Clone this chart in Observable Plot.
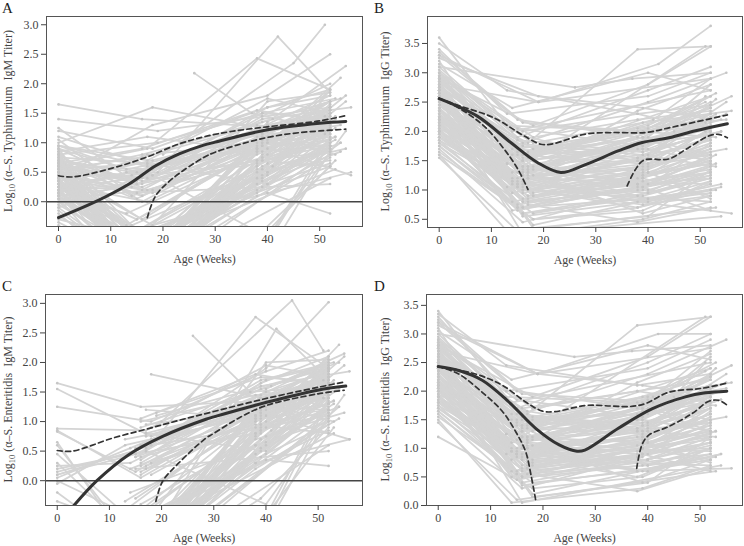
<!DOCTYPE html>
<html><head><meta charset="utf-8">
<script src="https://cdn.jsdelivr.net/npm/d3@7"></script>
<script src="https://cdn.jsdelivr.net/npm/@observablehq/plot@0.6"></script>
<style>
body{margin:0;background:#fff;}
#wrap{position:relative;width:744px;height:546px;font-family:"Liberation Serif",serif;}
.panel{position:absolute;}
.panel svg, .panel svg text{font-family:"Liberation Serif",serif !important;}
.tag{position:absolute;font:15px/15px "Liberation Serif",serif;color:#222;}
</style></head><body><div id="wrap"></div>
<script>
// ---------- shared visit ages per child: [visit2, visit3, visit4] (visit1 = age 0) ----------
const visitAges = [
[16,39,52],[15,38,52],[17,40,53],[14,null,52],[18,39,52],[16,38,54],[13,40,52],[17,null,52],[15,39,51],[16,41,52],
[18,38,52],[14,39,53],[17,null,52],[16,40,52],[15,38,55],[19,39,52],[16,null,52],[14,40,52],[17,39,52],[15,null,53],
[16,38,52],[18,40,52],[13,39,52],[17,38,56],[16,null,52],[15,40,52],[14,39,52],[18,null,54],[16,39,52],[17,40,52],
[15,38,52],[16,null,51],[14,39,52],[18,40,53],[16,38,52],[17,39,52],[15,null,52],[16,40,55],[13,38,52],[18,39,52],
[17,41,52],[16,null,52],[15,39,53],[14,40,52],[17,38,52],[16,39,52],[19,null,52],[15,40,54],[16,39,52],[18,38,52],
[14,null,52],[17,40,52],[16,39,56],[15,38,52],[18,40,52],[16,null,53],[17,39,52],[14,38,52],[16,40,52],[15,39,55],
[18,null,52],[16,39,52],[17,40,51],[13,38,52],[16,39,52],[15,null,52],[17,40,53],[16,38,52],[18,39,52],[14,40,52],
[16,null,54],[17,39,52],[26,37,52],[17,38,52],[19,42,52],[20,45,51],[18,40,52],
[15,39,52],[16,40,52],[17,38,52],[14,39,53],[16,null,52],[18,39,52],[15,40,52],[16,38,55],[17,39,52],[13,null,52],
[16,40,52],[15,39,54],[17,38,52],[18,null,52],[14,40,52],[16,39,52],[15,38,53],[17,40,52],[16,null,52],[18,39,56],
[14,38,52],[16,40,52],[17,39,52],[15,null,51],[16,38,52],[18,40,52],[13,39,52],[17,null,53],[16,39,52],[15,40,52],
[14,38,52],[16,39,54],[17,null,52],[18,40,52],[15,39,52],[16,38,52],[17,40,55],[14,null,52],[16,39,52],[15,38,52]
];

// ---------- log10 titers per child: [age0, visit2, visit3, visit4] ----------
const typhIgM = [
[0.45,-0.9,0.7,1.2],[0.2,0.3,0.9,1.1],[0.75,-1.2,0.5,1.45],[0.1,-0.8,null,0.9],[0.6,0.55,1.1,1.3],
[-0.7,-1.0,0.3,0.85],[0.35,-0.6,0.8,1.6],[0.9,0.2,null,1.05],[0.05,-1.4,1.2,1.35],[0.5,0.8,1.4,1.7],
[1.1,0.6,0.95,1.25],[-0.25,-0.9,-0.6,0.7],[0.4,-1.1,null,1.5],[0.65,0.1,1.0,0.95],[0.15,-0.5,0.6,1.8],
[0.8,1.0,1.5,1.4],[-0.9,-1.3,null,0.4],[0.3,0.45,1.3,1.55],[0.55,-0.7,0.25,1.0],[0.0,-1.0,null,1.25],
[0.7,0.35,0.7,0.6],[1.2,0.9,1.6,1.9],[0.25,-0.4,0.95,1.15],[-0.35,-1.1,0.1,0.5],[0.6,0.0,null,1.7],
[0.85,-1.5,1.05,1.3],[0.1,0.25,1.2,1.6],[0.45,-0.8,null,2.1],[-0.15,-1.2,0.45,0.9],[0.95,0.7,1.75,1.5],
[0.3,-0.3,0.85,1.35],[1.65,1.4,null,1.2],[0.5,-1.0,-0.8,1.1],[0.2,0.6,1.1,0.8],[0.7,-0.6,0.4,1.45],
[-0.5,-0.9,0.75,1.65],[0.4,0.15,null,0.3],[0.8,-1.3,1.35,2.3],[0.15,0.5,0.9,1.05],[1.0,1.6,1.25,1.5],
[0.35,-0.7,0.6,1.9],[0.55,-1.2,null,0.75],[-0.1,0.4,1.5,1.75],[0.65,-0.5,0.15,-0.2],[0.25,0.8,1.0,1.4],
[0.9,-1.0,1.15,1.2],[1.4,1.2,null,1.6],[0.05,-0.8,0.5,1.0],[0.6,0.3,1.45,2.0],[0.4,-1.4,0.7,1.3],
[-0.3,-0.6,null,0.6],[0.75,0.65,0.3,1.15],[0.2,-1.1,0.95,0.45],[1.05,0.05,1.1,1.55],[0.5,-0.4,1.7,1.85],
[0.3,-1.0,null,1.4],[0.85,1.1,0.85,0.95],[-0.6,-1.2,0.2,1.25],[0.45,0.2,1.3,1.0],[0.1,-0.9,0.55,1.7],
[0.7,0.45,null,0.85],[0.35,-1.3,-0.5,0.6],[0.95,0.6,1.2,1.45],[0.15,-0.2,0.8,1.3],[0.55,-0.8,1.0,1.55],
[1.25,0.3,null,1.8],[0.0,-1.1,0.65,1.1],[0.65,0.9,1.55,1.35],[0.25,-0.6,0.35,0.95],[0.8,0.1,0.9,1.25],
[-0.2,-1.4,null,1.0],[0.5,0.4,1.05,1.5],[null,2.18,1.5,1.2],[0.6,0.9,2.43,1.9],[0.3,0.5,2.8,1.85],
[null,0.8,2.35,3.0],[0.4,1.3,1.8,2.5],
[0.3,-1.0,0.6,1.15],[0.6,0.4,1.0,1.4],[0.15,-0.7,0.9,1.6],[0.8,-1.3,0.4,1.05],[0.45,-0.9,null,1.3],
[0.05,0.2,0.75,1.2],[0.7,-1.1,1.25,1.7],[0.35,-0.5,0.55,0.9],[0.55,0.65,1.15,1.45],[-0.4,-1.2,null,0.8],
[0.25,-0.8,-0.7,1.0],[0.9,0.5,1.35,1.75],[0.4,-1.4,0.85,1.25],[0.65,0.15,null,1.55],[0.1,-0.6,0.3,0.65],
[0.5,-1.0,1.05,1.5],[0.75,0.3,0.65,1.1],[-0.05,-0.9,1.2,1.35],[0.6,-1.2,null,1.9],[0.2,0.45,1.4,1.6],
[0.85,-0.4,0.5,0.7],[0.4,-1.3,-0.9,0.85],[0.3,0.0,0.95,1.4],[0.7,-0.8,null,1.15],[0.55,0.75,1.3,1.2],
[0.15,-1.1,0.45,1.65],[0.95,0.55,1.0,1.35],[0.45,-0.7,null,0.55],[0.25,-1.5,0.8,1.45],[0.65,0.35,1.6,1.8],
[-0.1,-1.0,0.15,1.05],[0.5,0.1,1.1,1.3],[0.8,-0.9,null,1.6],[0.35,0.7,1.2,1.5],[0.1,-1.2,0.7,0.95],
[0.6,-0.3,0.9,1.7],[0.4,0.5,-0.6,1.2],[0.75,-1.1,null,0.9],[0.2,0.25,1.05,1.4],[0.5,-0.8,0.6,1.25]
];
const typhIgG = [
[2.6,1.3,1.5,1.9],[2.9,1.7,2.0,2.4],[2.2,0.9,1.1,1.6],[3.1,2.0,null,2.7],[1.8,0.6,0.9,1.2],
[2.5,1.4,1.8,2.2],[3.4,2.3,2.6,3.0],[2.0,1.0,null,0.8],[2.7,1.1,1.3,2.0],[2.35,1.5,2.2,2.9],
[1.65,0.5,0.7,1.0],[3.0,1.8,1.6,1.4],[2.45,1.2,null,2.1],[2.8,0.8,1.0,1.3],[1.9,1.1,1.5,2.5],
[3.25,2.6,2.4,2.2],[2.15,0.7,null,1.5],[2.55,1.6,1.9,2.8],[2.9,1.3,0.6,0.9],[1.55,0.3,null,0.7],
[2.7,2.0,2.3,2.0],[2.25,0.9,1.4,1.7],[3.6,2.1,2.0,2.6],[2.0,1.2,0.8,0.6],[2.65,1.5,null,2.45],
[3.05,1.9,2.7,3.1],[1.75,0.8,1.2,1.9],[2.4,0.4,null,1.1],[2.85,1.6,1.7,1.5],[2.1,1.0,1.6,2.3],
[3.3,2.2,1.9,1.6],[2.5,1.4,null,3.45],[1.6,0.2,0.5,0.8],[2.75,1.7,2.1,2.65],[2.3,1.1,0.9,1.4],
[2.95,1.25,1.35,1.75],[2.05,0.65,null,1.3],[2.6,1.8,2.5,3.0],[3.2,1.45,1.1,1.2],[1.85,0.95,1.25,1.55],
[2.45,1.35,2.0,2.1],[2.7,0.55,null,0.95],[2.2,1.6,1.45,2.55],[3.15,2.4,3.0,2.7],[1.95,0.75,0.45,0.7],
[2.55,1.0,1.7,2.25],[2.8,2.5,null,2.9],[2.35,1.15,0.8,1.05],[1.7,0.45,1.0,1.8],[3.0,1.9,2.2,2.35],
[2.5,1.3,null,1.6],[2.15,0.85,1.3,0.85],[2.9,1.55,1.9,2.6],[1.8,1.05,0.7,1.1],[2.6,0.35,0.55,1.35],
[3.35,2.15,null,1.9],[2.25,1.4,1.6,2.0],[2.7,1.15,2.35,2.8],[2.05,0.6,0.95,1.25],[2.95,2.05,1.75,2.3],
[2.4,0.9,null,1.45],[1.9,1.25,1.05,0.65],[2.65,1.65,2.05,2.5],[3.5,2.7,2.3,2.45],[2.3,0.7,1.2,1.7],
[2.0,1.1,null,2.2],[2.75,1.4,0.85,1.0],[2.45,1.75,1.55,1.85],[1.6,0.5,0.65,1.15],[2.85,1.2,1.45,2.05],
[2.55,0.25,null,0.55],[2.1,1.35,1.9,1.45],[3.1,2.75,2.9,3.0],[2.6,1.8,3.4,3.45],[3.3,2.5,3.15,3.8],
[2.2,1.4,2.0,2.6],[2.9,2.1,2.8,3.45],
[2.4,1.2,1.4,1.8],[2.7,1.5,1.7,2.1],[2.0,0.8,1.0,1.4],[2.9,1.7,1.5,2.3],[2.25,1.05,null,1.6],
[2.55,1.35,1.9,2.5],[1.85,0.7,0.85,1.15],[2.8,1.6,2.05,2.2],[2.15,1.0,1.2,0.9],[2.6,1.45,null,1.95],
[2.35,0.95,1.35,1.75],[3.0,1.85,1.65,2.0],[1.95,0.9,1.1,1.5],[2.5,1.25,1.6,2.4],[2.75,1.1,0.95,1.2],
[2.2,1.3,1.75,2.05],[2.65,0.75,1.05,1.45],[2.45,1.55,null,2.6],[1.75,0.6,0.8,1.0],[2.85,1.8,2.15,2.35],
[2.3,1.15,1.5,1.85],[2.6,1.0,1.3,1.65],[2.05,1.3,1.15,1.3],[2.95,1.65,null,2.15],[2.4,0.85,1.2,1.55],
[2.7,1.4,1.8,2.45],[1.9,1.05,0.75,0.9],[2.5,1.6,2.0,2.25],[2.25,0.8,null,1.35],[2.8,1.3,1.55,1.9],
[2.1,0.95,1.4,1.75],[2.65,1.75,1.65,2.0],[2.35,1.2,0.9,1.1],[2.9,1.5,null,2.3],[2.0,0.7,1.05,1.6],
[2.55,1.15,1.7,2.15],[2.75,1.9,1.45,1.7],[2.2,0.65,null,1.25],[2.45,1.35,1.25,1.45],[2.6,1.05,1.55,2.0]
];
const entIgM = [
[null,-1.2,0.9,1.5],[null,0.4,1.1,1.4],[0.65,-1.5,0.6,1.7],[null,-0.9,null,1.2],[null,0.7,1.35,1.6],
[null,-1.3,0.2,1.05],[0.3,-0.8,1.0,1.9],[null,0.25,null,1.3],[null,-1.6,1.45,1.55],[null,0.9,1.6,2.0],
[1.55,0.75,1.2,1.5],[null,-1.1,-0.7,0.9],[null,-1.4,null,1.8],[0.85,0.05,1.25,1.2],[null,-0.6,0.8,2.1],
[null,1.15,1.75,1.65],[null,-1.5,null,0.6],[0.05,0.55,1.5,1.85],[null,-0.9,0.4,1.3],[null,-1.2,null,1.5],
[null,0.4,0.95,0.8],[1.25,1.0,1.85,2.2],[null,-0.5,1.2,1.4],[-0.2,-1.3,0.3,0.7],[null,0.1,null,1.95],
[null,-1.7,1.3,1.6],[0.25,0.3,1.4,1.9],[null,-1.0,null,2.3],[null,-1.4,0.7,1.15],[0.88,0.85,1.95,1.75],
[null,-0.3,1.05,1.6],[1.65,1.25,null,1.4],[null,-1.2,-0.9,1.35],[null,0.7,1.3,1.0],[0.45,-0.8,0.6,1.7],
[null,-1.1,1.0,1.9],[null,0.2,null,0.5],[null,-1.6,1.55,2.15],[-0.05,0.6,1.1,1.3],[null,1.8,1.4,1.75],
[null,-0.9,0.85,2.05],[null,-1.4,null,1.0],[0.15,0.5,1.7,2.0],[null,-0.7,0.35,0.25],[null,0.95,1.2,1.65],
[0.6,-1.2,1.35,1.45],[null,1.1,null,1.9],[null,-1.0,0.75,1.25],[null,0.35,1.65,2.1],[null,-1.7,0.9,1.55],
[-0.35,-0.8,null,0.85],[null,0.8,0.5,1.4],[null,-1.3,1.15,0.7],[0.83,0.15,1.3,1.8],[null,-0.6,2.0,2.05],
[null,-1.2,null,1.65],[null,1.2,1.05,1.2],[null,-1.5,0.45,1.5],[null,0.3,1.5,1.25],[null,-1.1,0.8,1.95],
[null,0.6,null,1.1],[null,-1.6,-0.3,0.9],[null,0.75,1.4,1.7],[null,-0.35,1.0,1.55],[null,-1.0,1.2,1.8],
[null,0.45,null,2.0],[null,-1.3,0.9,1.35],[null,1.05,1.8,1.6],[null,-0.8,0.55,1.2],[null,0.2,1.1,1.5],
[null,-1.6,null,1.25],[null,0.55,1.25,1.75],[null,2.45,1.5,1.6],[0.2,0.5,2.77,1.9],[0.0,-0.8,2.57,1.7],
[null,1.0,3.05,2.2],[0.1,0.6,1.9,3.02],
[null,-1.1,0.85,1.6],[null,0.6,1.2,1.55],[null,-0.8,1.1,1.85],[null,-1.5,0.5,1.3],[null,-1.2,null,1.45],
[null,0.3,0.95,1.5],[null,-1.3,1.4,1.9],[null,-0.4,0.7,1.15],[null,0.8,1.3,1.7],[null,-1.6,null,1.05],
[null,-1.0,-0.6,1.4],[null,0.55,1.55,2.0],[null,-1.4,1.0,1.5],[null,0.1,null,1.75],[null,-0.7,0.45,0.95],
[null,-1.2,1.25,1.8],[0.1,0.45,0.8,1.35],[null,-1.0,1.35,1.6],[null,-1.3,null,2.1],[null,0.65,1.6,1.85],
[null,-0.2,0.6,1.0],[null,-1.5,-0.8,1.1],[null,0.2,1.1,1.65],[null,-0.9,null,1.4],[null,1.0,1.45,1.5],
[null,-1.2,0.65,1.95],[null,0.7,1.15,1.6],[null,-0.8,null,0.8],[null,-1.7,0.95,1.7],[null,0.4,1.7,1.95],
[null,-1.1,0.3,1.3],[null,0.15,1.2,1.55],[null,-1.0,null,1.85],[null,0.9,1.4,1.75],[null,-1.4,0.85,1.2],
[null,-0.5,1.05,1.9],[null,0.5,-0.4,1.45],[null,-1.3,null,1.15],[null,0.25,1.3,1.6],[null,-0.9,0.75,1.5]
];
const entIgG = [
[2.5,1.0,1.2,1.6],[2.8,1.5,1.6,2.2],[2.1,0.7,0.9,1.3],[3.0,1.8,null,2.5],[1.7,0.5,0.7,1.0],
[2.4,1.2,1.5,2.0],[3.3,2.0,2.4,2.9],[1.9,0.8,null,0.7],[2.6,0.9,1.1,1.8],[2.25,1.3,1.9,2.7],
[1.55,0.4,0.6,0.9],[2.9,1.6,1.3,1.2],[2.35,1.0,null,1.9],[2.7,0.6,0.8,1.1],[1.8,0.9,1.3,2.3],
[3.15,2.3,2.1,1.9],[2.05,0.5,null,1.3],[2.45,1.4,1.7,2.6],[2.8,1.1,0.4,0.8],[1.45,0.1,null,0.6],
[2.6,1.7,2.0,1.8],[2.15,0.75,1.2,1.5],[3.4,1.9,1.8,2.4],[1.9,1.0,0.6,0.65],[2.55,1.3,null,2.25],
[2.95,1.7,2.5,3.0],[1.65,0.6,1.0,1.7],[2.3,0.2,null,0.9],[2.75,1.4,1.5,1.3],[2.0,0.85,1.4,2.1],
[3.2,2.0,1.7,1.5],[2.4,1.2,null,3.3],[1.5,0.05,0.3,0.7],[2.65,1.5,1.9,2.5],[2.2,0.9,0.75,1.2],
[2.85,1.05,1.15,1.6],[1.95,0.45,null,1.1],[2.5,1.6,2.3,2.9],[3.1,1.25,0.95,1.0],[1.75,0.8,1.05,1.4],
[2.35,1.15,1.8,1.95],[2.6,0.35,null,0.8],[2.1,1.4,1.25,2.4],[3.05,2.2,2.8,2.55],[1.85,0.55,0.25,0.65],
[2.45,0.8,1.5,2.05],[2.7,2.3,null,2.75],[2.25,0.95,0.6,0.9],[1.6,0.3,0.85,1.65],[2.9,1.7,2.0,2.2],
[2.4,1.1,null,1.45],[2.05,0.65,1.1,0.75],[2.8,1.35,1.7,2.45],[1.7,0.85,0.5,1.0],[2.5,0.15,0.4,1.2],
[3.25,1.95,null,1.75],[2.15,1.2,1.4,1.85],[2.6,0.95,2.15,2.65],[1.95,0.4,0.8,1.1],[2.85,1.85,1.55,2.15],
[2.3,0.7,null,1.3],[1.8,1.05,0.9,0.6],[2.55,1.45,1.85,2.35],[3.35,2.45,2.1,2.3],[2.2,0.5,1.0,1.55],
[1.9,0.9,null,2.0],[2.65,1.2,0.7,0.85],[2.35,1.55,1.35,1.7],[1.2,0.3,0.5,1.0],[2.75,1.0,1.3,1.9],
[2.45,0.05,null,0.7],[2.0,1.15,1.7,1.3],[3.0,2.6,2.7,2.8],[2.5,1.6,3.15,3.3],[3.2,2.3,3.0,3.0],
[2.1,1.2,1.9,2.5],[2.8,1.9,2.6,3.3],
[2.35,1.0,1.2,1.7],[2.65,1.3,1.45,2.0],[1.9,0.65,0.85,1.25],[2.8,1.5,1.3,2.1],[2.15,0.9,null,1.45],
[2.45,1.15,1.65,2.3],[1.75,0.55,0.7,1.0],[2.7,1.4,1.8,2.05],[2.05,0.85,1.0,0.8],[2.5,1.25,null,1.8],
[2.25,0.8,1.15,1.6],[2.9,1.6,1.4,1.85],[1.85,0.75,0.95,1.35],[2.4,1.05,1.4,2.2],[2.65,0.95,0.8,1.05],
[2.1,1.1,1.55,1.9],[2.55,0.6,0.9,1.3],[2.35,1.35,null,2.4],[1.65,0.5,0.65,0.9],[2.75,1.55,1.9,2.15],
[2.2,0.95,1.3,1.7],[2.5,0.85,1.1,1.5],[1.95,1.1,1.0,1.15],[2.85,1.45,null,1.95],[2.3,0.7,1.05,1.4],
[2.6,1.2,1.6,2.25],[1.8,0.9,0.6,0.8],[2.4,1.4,1.75,2.1],[2.15,0.65,null,1.2],[2.7,1.15,1.35,1.75],
[2.0,0.8,1.2,1.6],[2.55,1.5,1.45,1.85],[2.25,1.0,0.75,0.95],[2.8,1.3,null,2.1],[1.9,0.55,0.9,1.45],
[2.45,1.0,1.5,2.0],[2.65,1.65,1.3,1.55],[2.1,0.5,null,1.1],[2.35,1.2,1.1,1.3],[2.5,0.9,1.35,1.85]
];

// ---------- fitted mean curves and 95% bands: [age, log10 titer] ----------
const typhIgMFit   = [[0,-0.27],[7.1,0],[13.5,0.30],[18.6,0.61],[23.1,0.81],[27.8,0.96],[30,1.01],[40,1.22],[50,1.33],[55,1.36]];
const typhIgMUpper = [[0,0.44],[2.7,0.42],[10.3,0.57],[16.7,0.75],[23.1,0.98],[27.8,1.1],[33,1.19],[40,1.27],[50,1.37],[55,1.46]];
const typhIgMLower = [[17,-0.27],[18.6,0.1],[21.8,0.39],[27.8,0.75],[30,0.84],[35,0.98],[40,1.09],[45,1.16],[50,1.2],[55,1.23]];

const typhIgGFit    = [[0,2.56],[7.3,2.26],[13.7,1.81],[18.8,1.47],[23.3,1.30],[27.9,1.43],[34.4,1.67],[38.9,1.81],[44,1.89],[49.1,2.01],[55.2,2.13]];
const typhIgGUpper  = [[0,2.56],[4.1,2.43],[10.5,2.23],[16.3,1.92],[19.5,1.78],[21.9,1.79],[27.8,1.95],[33,1.98],[39.5,1.98],[44,2.06],[49.1,2.16],[55.2,2.28]];
const typhIgGLowerA = [[0,2.56],[4.1,2.38],[8.6,2.09],[12.5,1.69],[15.1,1.35],[17,1.01]];
const typhIgGLowerB = [[36,1.07],[37.6,1.35],[39.2,1.51],[44,1.53],[47.2,1.69],[51.6,1.92],[53.5,1.95],[55.2,1.89]];

const entIgMFit   = [[3.2,-0.42],[7.6,0],[13.7,0.44],[20.2,0.75],[28.5,1.04],[30,1.08],[40.3,1.33],[49.9,1.53],[55.3,1.6]];
const entIgMUpper = [[0,0.51],[2.9,0.5],[10.6,0.72],[17,0.87],[23.3,1.02],[30,1.17],[40,1.39],[50,1.58],[55,1.67]];
const entIgMLower = [[18.9,-0.35],[20.2,-0.01],[23.3,0.30],[28.5,0.72],[30,0.8],[35,1.07],[40,1.27],[50,1.47],[55,1.53]];

const entIgGFit    = [[0,2.43],[3.9,2.36],[8.4,2.19],[13.5,1.81],[18.6,1.35],[23.1,1.06],[26.5,0.95],[28,0.97],[34.4,1.35],[40.8,1.69],[47.2,1.90],[51,1.97],[55.1,2.0]];
const entIgGUpper  = [[0,2.43],[7.1,2.30],[12.3,2.10],[16.7,1.81],[19.9,1.65],[22.2,1.64],[28.2,1.75],[33,1.74],[36.6,1.73],[39.5,1.78],[44,1.98],[50.4,2.05],[55.1,2.14]];
const entIgGLowerA = [[0,2.43],[3.9,2.30],[8.4,1.98],[12.3,1.64],[14.8,1.29],[16.7,0.94],[17.7,0.54],[18.7,0.05]];
const entIgGLowerB = [[37.9,0.65],[38.9,1.06],[40.2,1.23],[44,1.38],[48.5,1.61],[51.6,1.82],[53.5,1.84],[55.1,1.76]];

const xTicks = [0,10,20,30,40,50];
const yTicksIgM = [0,0.5,1,1.5,2,2.5,3];
const yTicksTyphIgG = [0.5,1,1.5,2,2.5,3,3.5];
const yTicksEntIgG = [0,0.5,1,1.5,2,2.5,3,3.5];

function toPoints(values){
  const pts=[];
  values.forEach((row,i)=>{
    const ages=[0,...visitAges[i]];
    row.forEach((v,j)=>{ if(v!=null && ages[j]!=null) pts.push({id:i,age:ages[j],titer:v}); });
  });
  return pts;
}

const panels = [
 {tag:"A", left:0, top:0, w:372, h:270, m:[16,10,44,46], x:[-2.3,58.2], y:[-0.42,3.14], yt:yTicksIgM, zero:true,
  data:typhIgM, fit:typhIgMFit, bands:[typhIgMUpper,typhIgMLower], ag:"Typhimurium", iso:"IgM", labX:12},
 {tag:"B", left:372, top:0, w:372, h:270, m:[16,2,43,55], x:[-2.24,58.1], y:[0.36,3.96], yt:yTicksTyphIgG, zero:false,
  data:typhIgG, fit:typhIgGFit, bands:[typhIgGUpper,typhIgGLowerA,typhIgGLowerB], ag:"Typhimurium", iso:"IgG", labX:17},
 {tag:"C", left:0, top:270, w:372, h:276, m:[24,10,41,45], x:[-2.25,58.5], y:[-0.42,3.15], yt:yTicksIgM, zero:true,
  data:entIgM, fit:entIgMFit, bands:[entIgMUpper,entIgMLower], ag:"Enteritidis", iso:"IgM", labX:12},
 {tag:"D", left:372, top:270, w:372, h:276, m:[24,2,41,54], x:[-2.24,58.1], y:[0,3.69], yt:yTicksEntIgG, zero:false,
  data:entIgG, fit:entIgGFit, bands:[entIgGUpper,entIgGLowerA,entIgGLowerB], ag:"Enteritidis", iso:"IgG", labX:17}
];

const wrap = document.getElementById("wrap");
const FONT = "'Liberation Serif', serif";
for (const p of panels){
  const pts = toPoints(p.data);
  const marks = [
    Plot.line(pts,{x:"age",y:"titer",z:"id",stroke:"#d4d4d4",strokeWidth:1.75,clip:true}),
    Plot.dot(pts,{x:"age",y:"titer",r:1.3,fill:"#c6c6c6",stroke:null,clip:true})
  ];
  if (p.zero) marks.push(Plot.ruleY([0],{stroke:"#444",strokeWidth:1.6}));
  for (const b of p.bands) marks.push(Plot.line(b,{x:d=>d[0],y:d=>d[1],stroke:"#333",strokeWidth:1.7,strokeDasharray:"5,3.5",curve:"catmull-rom",clip:true}));
  marks.push(Plot.line(p.fit,{x:d=>d[0],y:d=>d[1],stroke:"#333",strokeWidth:3,curve:"catmull-rom",clip:true}));
  marks.push(Plot.frame({stroke:"#555",strokeWidth:1}));
  marks.push(Plot.axisX({ticks:xTicks,tickSize:5,tickPadding:3,fontSize:12,color:"#444",label:"Age (Weeks)",labelAnchor:"center",labelArrow:"none",labelOffset:36}));
  marks.push(Plot.axisY({ticks:p.yt,tickSize:5,tickPadding:3,fontSize:12,color:"#444",tickFormat:d3.format(".1f"),label:null}));
  const svg = Plot.plot({
    width:p.w, height:p.h,
    marginTop:p.m[0], marginRight:p.m[1], marginBottom:p.m[2], marginLeft:p.m[3],
    x:{domain:p.x}, y:{domain:p.y},
    style:`font-family:${FONT};background:#fff;overflow:visible;`,
    marks
  });
  const div=document.createElement("div");
  div.className="panel"; div.style.left=p.left+"px"; div.style.top=p.top+"px";
  div.appendChild(svg);
  wrap.appendChild(div);
  // y-axis title with subscript
  const cy = p.m[0] + (p.h - p.m[0] - p.m[2]) / 2;
  const t = d3.select(svg).append("text")
    .attr("transform",`translate(${p.labX},${cy}) rotate(-90)`)
    .attr("text-anchor","middle").attr("font-size",12).attr("fill","#444");
  t.append("tspan").text("Log");
  t.append("tspan").attr("font-size",8.5).attr("dy",3).text("10");
  t.append("tspan").attr("dy",-3).text(` (α–S. ${p.ag}  ${p.iso} Titer)`);
  const tag=document.createElement("div");
  tag.className="tag"; tag.textContent=p.tag;
  tag.style.left=(p.left+2)+"px"; tag.style.top=(p.top+(p.top?9:1))+"px";
  wrap.appendChild(tag);
}
</script></body></html>
